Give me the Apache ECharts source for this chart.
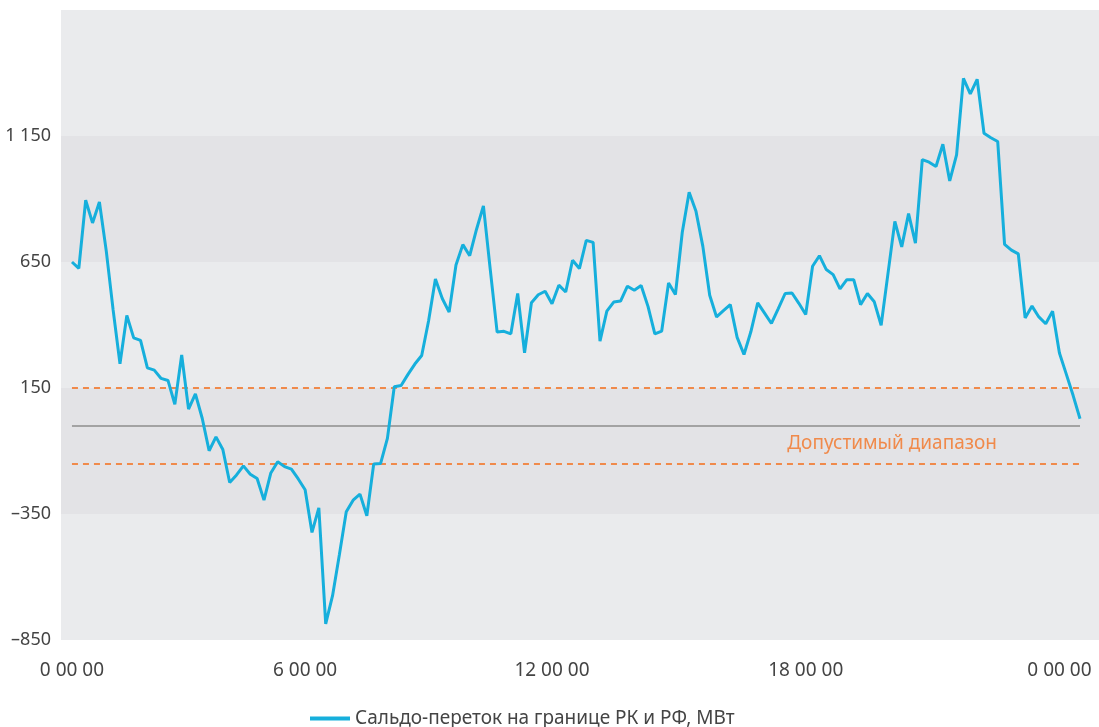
<!DOCTYPE html>
<html>
<head>
<meta charset="utf-8">
<script src="https://cdn.jsdelivr.net/npm/echarts@6/dist/echarts.min.js"></script>
<style>
  html, body { margin: 0; padding: 0; background: #fff; }
  #chart { width: 1099px; height: 727px; }
</style>
</head>
<body>
<div id="chart"></div>
<script>
// сальдо-переток, МВт (one value per step of the x axis)
const values = [
  650, 625, 895, 805, 888, 694, 460, 246, 438, 349,
  339, 230, 221, 188, 180, 85, 281, 66, 127, 29,
  -99, -44, -94, -225, -195, -159, -192, -209, -295, -187,
  -143, -162, -172, -211, -254, -423, -326, -786, -674, -511,
  -341, -295, -271, -357, -152, -150, -50, 155, 160, 204,
  245, 279, 416, 583, 505, 451, 638, 719, 675, 780,
  873, 620, 372, 375, 365, 525, 290, 488, 520, 534,
  484, 558, 531, 657, 624, 736, 728, 336, 455, 491,
  495, 554, 538, 557, 474, 365, 376, 567, 521, 768,
  927, 851, 712, 518, 432, 457, 481, 351, 283, 373,
  488, 447, 406, 465, 525, 527, 486, 442, 633, 675,
  620, 600, 543, 580, 580, 481, 525, 492, 399, 605,
  811, 710, 842, 725, 1056, 1046, 1029, 1117, 972, 1075,
  1379, 1317, 1375, 1161, 1143, 1128, 720, 697, 682, 428,
  475, 432, 405, 455, 289, 205, 120, 28
]
const tickIndex = [0, 34, 70, 107, 144]
const tickLabels = ['0 00 00', '6 00 00', '12 00 00', '18 00 00', '0 00 00']
const yLabels = [-850, -350, 150, 650, 1150]
const rangeUpper = 150
const rangeLower = -150
const baseLevel = 0
const rangeText = 'Допустимый диапазон'
const seriesName = 'Сальдо-переток на границе РК и РФ, МВт'

const FONT = '"Noto Sans", sans-serif'
const last = values.length - 1

function fmtNum(v) {
  const s = String(Math.abs(v)).replace(/\B(?=(\d{3})+(?!\d))/g, ' ')
  return v < 0 ? '–' + s : s
}

const chart = echarts.init(document.getElementById('chart'))
chart.setOption({
  animation: false,
  grid: { left: 61, right: 0, top: 10, bottom: 87 },
  legend: {
    left: 305,
    top: 704,
    icon: 'rect',
    itemWidth: 40,
    itemHeight: 4,
    itemGap: 8,
    textStyle: { fontFamily: FONT, fontSize: 19, color: '#444' },
    data: [seriesName]
  },
  xAxis: {
    type: 'value',
    min: -1.6,
    max: last + 2.77,
    axisLine: { show: false },
    axisTick: { show: false },
    splitLine: { show: false },
    axisLabel: {
      customValues: tickIndex,
      margin: 21,
      fontFamily: FONT,
      fontSize: 19,
      color: '#444',
      formatter: v => {
        const k = tickIndex.indexOf(Math.round(v))
        return k >= 0 ? tickLabels[k] : ''
      }
    }
  },
  yAxis: {
    type: 'value',
    min: -850,
    max: 1650,
    interval: 500,
    axisLine: { show: false },
    axisTick: { show: false },
    splitLine: { show: false },
    splitArea: { show: true, areaStyle: { color: ['#eaebed', '#e3e3e6'] } },
    axisLabel: {
      margin: 10,
      fontFamily: FONT,
      fontSize: 18,
      color: '#444',
      formatter: v => (yLabels.includes(v) ? fmtNum(v) : '')
    }
  },
  series: [
    {
      name: seriesName,
      type: 'line',
      data: values.map((v, i) => [i, v]),
      showSymbol: false,
      symbol: 'none',
      itemStyle: { color: '#16afdc' },
      lineStyle: { color: '#16afdc', width: 3 },
      z: 5,
      markLine: {
        silent: true,
        symbol: 'none',
        label: { show: false },
        data: [
          [
            { coord: [0, baseLevel], lineStyle: { color: '#a3a3a3', width: 2, type: 'solid' } },
            { coord: [last, baseLevel] }
          ],
          [
            { coord: [0, rangeUpper], lineStyle: { color: '#f08a4b', width: 2, type: [6, 5] } },
            { coord: [last, rangeUpper] }
          ],
          [
            { coord: [0, rangeLower], lineStyle: { color: '#f08a4b', width: 2, type: [6, 5] } },
            { coord: [last, rangeLower] }
          ]
        ]
      },
      markPoint: {
        silent: true,
        symbol: 'circle',
        symbolSize: 0,
        data: [
          {
            coord: [119.6, -72],
            label: {
              show: true,
              position: 'inside',
              formatter: rangeText,
              fontFamily: FONT,
              fontSize: 19,
              color: '#f08a4b'
            }
          }
        ]
      }
    }
  ]
})
</script>
</body>
</html>
